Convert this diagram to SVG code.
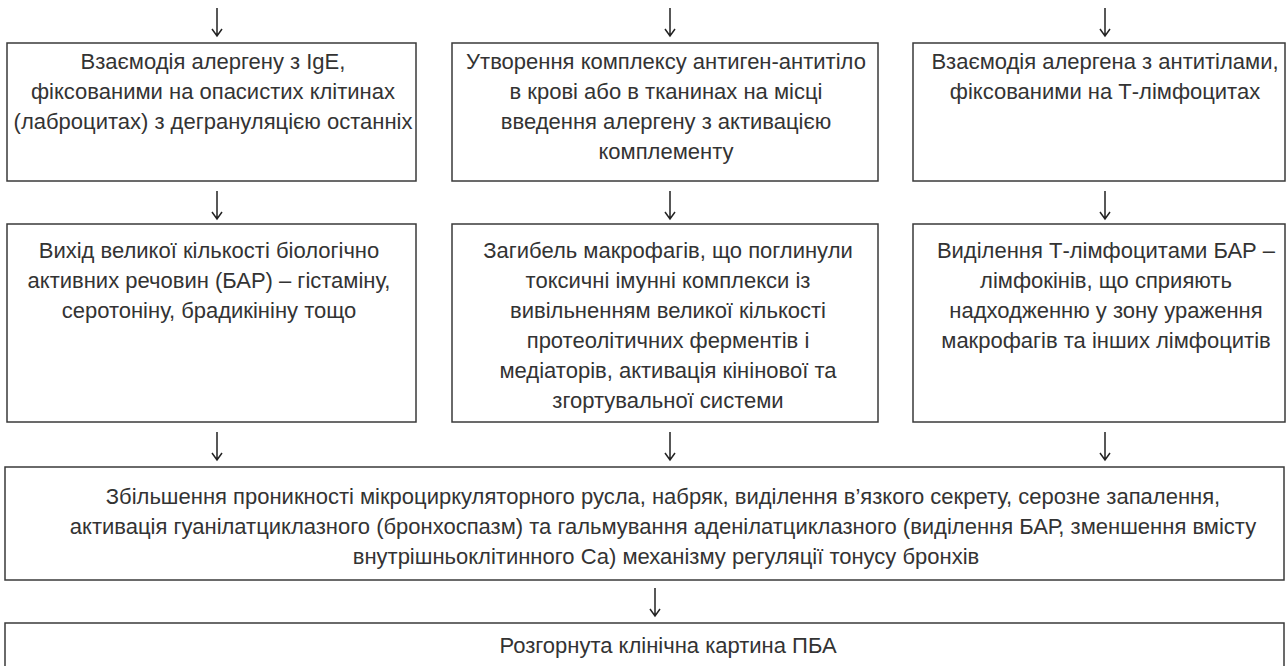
<svg xmlns="http://www.w3.org/2000/svg" width="1286" height="666" viewBox="0 0 1286 666">
<style>
.box{fill:#fff;stroke:#3a3a3a;stroke-width:1.5}
.t{font-family:"Liberation Sans",Arial,sans-serif;font-size:22px;fill:#333;text-anchor:middle}
.arr{fill:none;stroke:#222;stroke-width:1.5}
</style>
<rect width="1286" height="666" fill="#fff"/>
<g id="connectors">
<path class="arr" d="M217,8V36M212,29L217,36L222,29"/>
<path class="arr" d="M670,8V36M665,29L670,36L675,29"/>
<path class="arr" d="M1105,8V36M1100,29L1105,36L1110,29"/>
<path class="arr" d="M217,191V219M212,212L217,219L222,212"/>
<path class="arr" d="M670,191V219M665,212L670,219L675,212"/>
<path class="arr" d="M1105,191V219M1100,212L1105,219L1110,212"/>
<path class="arr" d="M217,432V460M212,453L217,460L222,453"/>
<path class="arr" d="M670,432V460M665,453L670,460L675,453"/>
<path class="arr" d="M1105,432V460M1100,453L1105,460L1110,453"/>
<path class="arr" d="M655,588V616M650,609L655,616L660,609"/>
</g>
<g id="n1">
<rect class="box" x="7" y="43" width="409" height="138"/>
<text class="t" x="213" y="69">Взаємодія алергену з IgE,</text>
<text class="t" x="213" y="99">фіксованими на опасистих клітинах</text>
<text class="t" x="213" y="129">(лаброцитах) з дегрануляцією останніх</text>
</g>
<g id="n2">
<rect class="box" x="452" y="43" width="426" height="138"/>
<text class="t" x="666" y="69">Утворення комплексу антиген-антитіло</text>
<text class="t" x="666" y="99">в крові або в тканинах на місці</text>
<text class="t" x="666" y="129">введення алергену з активацією</text>
<text class="t" x="666" y="159">комплементу</text>
</g>
<g id="n3">
<rect class="box" x="913" y="43" width="372" height="138"/>
<text class="t" x="1105" y="69">Взаємодія алергена з антитілами,</text>
<text class="t" x="1105" y="99">фіксованими на Т-лімфоцитах</text>
</g>
<g id="n4">
<rect class="box" x="7" y="224" width="409" height="198"/>
<text class="t" x="209" y="258">Вихід великої кількості біологічно</text>
<text class="t" x="209" y="288">активних речовин (БАР) – гістаміну,</text>
<text class="t" x="209" y="318">серотоніну, брадикініну тощо</text>
</g>
<g id="n5">
<rect class="box" x="452" y="224" width="426" height="198"/>
<text class="t" x="668" y="258">Загибель макрофагів, що поглинули</text>
<text class="t" x="668" y="288">токсичні імунні комплекси із</text>
<text class="t" x="668" y="318">вивільненням великої кількості</text>
<text class="t" x="668" y="348">протеолітичних ферментів і</text>
<text class="t" x="668" y="378">медіаторів, активація кінінової та</text>
<text class="t" x="668" y="408">згортувальної системи</text>
</g>
<g id="n6">
<rect class="box" x="913" y="224" width="372" height="198"/>
<text class="t" x="1106" y="258">Виділення Т-лімфоцитами БАР –</text>
<text class="t" x="1106" y="288">лімфокінів, що сприяють</text>
<text class="t" x="1106" y="318">надходженню у зону ураження</text>
<text class="t" x="1106" y="348">макрофагів та інших лімфоцитів</text>
</g>
<g id="n7">
<rect class="box" x="5" y="467" width="1279" height="113"/>
<text class="t" x="663" y="504">Збільшення проникності мікроциркуляторного русла, набряк, виділення в’язкого секрету, серозне запалення,</text>
<text class="t" x="663" y="534">активація гуанілатциклазного (бронхоспазм) та гальмування аденілатциклазного (виділення БАР, зменшення вмісту</text>
<text class="t" x="666" y="564">внутрішньоклітинного Са) механізму регуляції тонусу бронхів</text>
</g>
<g id="n8">
<rect class="box" x="5" y="623" width="1279" height="50"/>
<text class="t" x="668" y="653">Розгорнута клінічна картина ПБА</text>
</g>
</svg>
